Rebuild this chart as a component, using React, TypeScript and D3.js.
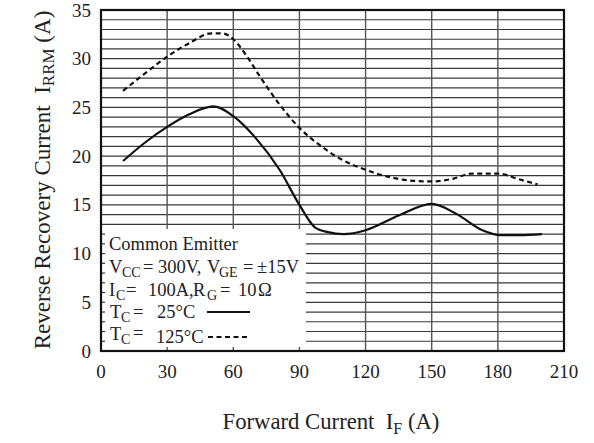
import React from "react";
import * as d3 from "d3";

const xTicks = [0, 30, 60, 90, 120, 150, 180, 210];
const yTicks = [0, 5, 10, 15, 20, 25, 30, 35];

// T_C = 25°C (solid)
const solid25: [number, number][] = [
  [10, 19.5], [20, 21.4], [30, 23.0], [40, 24.3], [51, 25.1], [60, 24.1],
  [70, 21.9], [81, 18.6], [90, 15.0], [97, 12.7], [103, 12.2], [110, 12.0],
  [120, 12.4], [135, 13.9], [150, 15.1], [161, 14.1], [173, 12.4], [181, 11.9],
  [190, 11.9], [200, 12.0],
];

// T_C = 125°C (dashed)
const dashed125: [number, number][] = [
  [10, 26.7], [20, 28.5], [30, 30.2], [40, 31.6], [50, 32.6], [55, 32.6],
  [60, 32.0], [66, 30.3], [72, 28.2], [80, 25.6], [90, 22.9], [100, 21.0],
  [108, 19.8], [120, 18.6], [130, 17.9], [140, 17.5], [150, 17.4], [160, 17.7],
  [168, 18.2], [180, 18.2], [190, 17.6], [198, 17.1],
];

const FONT = "'Liberation Serif', 'Times New Roman', serif";

export default function App() {
  const W = 594, H = 443;
  const x = d3.scaleLinear().domain([0, 210]).range([101, 564]);
  const y = d3.scaleLinear().domain([0, 35]).range([351, 10]);
  const line = d3
    .line<[number, number]>()
    .x((d) => x(d[0]))
    .y((d) => y(d[1]))
    .curve(d3.curveMonotoneX);

  const hGrid = d3.range(1, 35);
  const vGrid = d3.range(30, 210, 30);
  const boxX0 = x(0) + 1, boxX1 = 306, boxY0 = 229, boxY1 = y(0) - 1;

  const leftStubs = hGrid.filter((v) => y(v) > boxY0);
  const bottomStubs = vGrid.filter((v) => x(v) < boxX1);

  const gridColor = "#3a3a3a";
  const fs = 18.5;
  const sub = 14;

  return (
    <svg
      width={W}
      height={H}
      style={{ position: "absolute", left: 0, top: 0, background: "#fff" }}
      fontFamily={FONT}
    >
      <rect x={0} y={0} width={W} height={H} fill="#fff" />
      {hGrid.map((v) => (
        <line key={"h" + v} x1={x(0)} x2={x(210)} y1={y(v)} y2={y(v)} stroke={gridColor} strokeWidth={1.2} />
      ))}
      {vGrid.map((v) => (
        <line key={"v" + v} x1={x(v)} x2={x(v)} y1={y(0)} y2={y(35)} stroke="#555" strokeWidth={1.4} />
      ))}
      <path d={line(solid25) || ""} fill="none" stroke="#111" strokeWidth={2.2} />
      <path d={line(dashed125) || ""} fill="none" stroke="#111" strokeWidth={2.2} strokeDasharray="5,3.5" />

      <rect x={boxX0} y={boxY0} width={boxX1 - boxX0} height={boxY1 - boxY0} fill="#fff" />
      {leftStubs.map((v) => (
        <line key={"ls" + v} x1={x(0)} x2={x(0) + 4} y1={y(v)} y2={y(v)} stroke={gridColor} strokeWidth={1.2} />
      ))}
      {bottomStubs.map((v) => (
        <line key={"bs" + v} x1={x(v)} x2={x(v)} y1={y(0)} y2={y(0) - 4} stroke="#555" strokeWidth={1.4} />
      ))}

      <rect x={x(0)} y={y(35)} width={x(210) - x(0)} height={y(0) - y(35)} fill="none" stroke="#111" strokeWidth={2.2} />

      {yTicks.map((v) => (
        <text key={"yt" + v} x={91} y={y(v) + 6.5} textAnchor="end" fontSize={19} fill="#222">
          {v}
        </text>
      ))}
      {xTicks.map((v) => (
        <text key={"xt" + v} x={x(v)} y={378} textAnchor="middle" fontSize={19} fill="#222">
          {v}
        </text>
      ))}

      <text x={331} y={429} textAnchor="middle" fontSize={22.7} fill="#222">
        Forward Current{"\u00A0\u00A0"}I
        <tspan fontSize={16} dy={5}>F</tspan>
        <tspan dy={-5}>{"\u00A0"}(A)</tspan>
      </text>

      <text transform={`translate(50,180) rotate(-90)`} textAnchor="middle" fontSize={23} fill="#222">
        Reverse Recovery Current{"\u00A0\u00A0"}I
        <tspan fontSize={17} dy={4}>RRM</tspan>
        <tspan dy={-4}>{"\u00A0"}(A)</tspan>
      </text>

      <g fill="#222" fontSize={fs}>
        <text x={109} y={250}>Common Emitter</text>

        <text x={109} y={273}>V</text>
        <text x={122} y={277} fontSize={sub}>CC</text>
        <text x={143} y={273}>=</text>
        <text x={158} y={273}>300V,</text>
        <text x={207} y={273}>V</text>
        <text x={219} y={277} fontSize={sub}>GE</text>
        <text x={243} y={273}>=</text>
        <text x={257} y={273}>±15V</text>

        <text x={109} y={296}>I</text>
        <text x={116} y={300} fontSize={sub}>C</text>
        <text x={126} y={296}>=</text>
        <text x={148} y={296}>100A,</text>
        <text x={193} y={296}>R</text>
        <text x={207} y={300} fontSize={sub}>G</text>
        <text x={220} y={296}>=</text>
        <text x={238} y={296}>10</text>
        <text x={258} y={296}>Ω</text>

        <text x={110} y={318}>T</text>
        <text x={121} y={322} fontSize={sub}>C</text>
        <text x={133} y={318}>=</text>
        <text x={157} y={318}>25°C</text>

        <text x={110} y={340}>T</text>
        <text x={121} y={344} fontSize={sub}>C</text>
        <text x={133} y={339}>=</text>
        <text x={156} y={343}>125°C</text>
      </g>
      <line x1={207} x2={250} y1={312} y2={312} stroke="#111" strokeWidth={2.2} />
      <line x1={208} x2={250} y1={337} y2={337} stroke="#111" strokeWidth={2.2} strokeDasharray="5,3.5" />
    </svg>
  );
}
